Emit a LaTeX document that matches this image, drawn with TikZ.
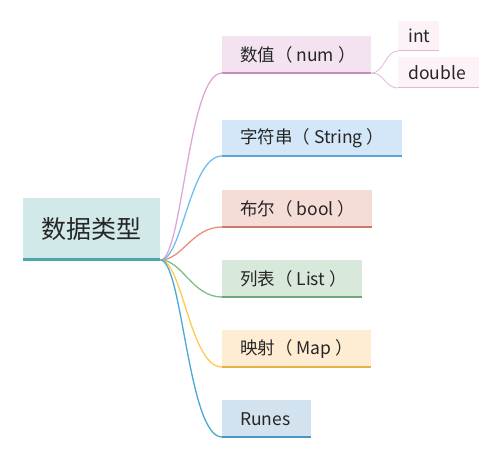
\documentclass[tikz,border=0pt]{standalone}
\usepackage{fontspec}
\setmainfont{Noto Sans CJK SC}
\usetikzlibrary{positioning}
\definecolor{typesfill}{HTML}{D2E9EA}
\definecolor{typesline}{HTML}{4BA7A9}
\definecolor{numfill}{HTML}{F3E2EF}
\definecolor{numline}{HTML}{C58DBA}
\definecolor{numcurve}{HTML}{DDA8D6}
\definecolor{leaffill}{HTML}{FCF2F8}
\definecolor{leafline}{HTML}{E2B8DA}
\definecolor{strfill}{HTML}{D4E7F8}
\definecolor{strline}{HTML}{5AA5D8}
\definecolor{strcurve}{HTML}{70BDF2}
\definecolor{boolfill}{HTML}{F6DCD6}
\definecolor{boolline}{HTML}{CC7A65}
\definecolor{boolcurve}{HTML}{E8907A}
\definecolor{listfill}{HTML}{D8E9DC}
\definecolor{listline}{HTML}{6CA97A}
\definecolor{listcurve}{HTML}{7DBF8A}
\definecolor{mapfill}{HTML}{FFEDD3}
\definecolor{mapline}{HTML}{E4B341}
\definecolor{mapcurve}{HTML}{FCCB50}
\definecolor{runesfill}{HTML}{D2E3EF}
\definecolor{runesline}{HTML}{4798C1}
\definecolor{runescurve}{HTML}{4AA8D6}
% left-aligned label of fixed width
\newcommand{\boxtext}[2]{\makebox[#1][l]{#2}}

\begin{document}
\begin{tikzpicture}[x=1pt, y=-1pt,
    topic/.style={rectangle, inner xsep=18pt, inner ysep=0pt, anchor=south west,
      minimum height=38pt, text=black!85,
      font=\fontsize{17.5}{21}\selectfont},
    leaf/.style={topic, inner xsep=10pt, minimum height=30pt},
    branch/.style={line width=1.3pt},
    twig/.style={line width=0.8pt, leafline}]
  \useasboundingbox (0,0) rectangle (500,460);

  % boxes
  \node[topic, fill=typesfill, inner xsep=0pt, minimum width=137pt,
        minimum height=63pt, font=\fontsize{25}{30}\selectfont] (types) at (23,261) {数据类型};
  \node[topic, fill=numfill] (num) at (222,74) {\boxtext{113pt}{数值（ num ）}};
  \node[leaf, fill=leaffill] (int) at (398,51) {\boxtext{21pt}{int}};
  \node[leaf, fill=leaffill, minimum height=31pt] (dbl) at (398,88) {\boxtext{61pt}{double}};
  \node[topic, fill=strfill, minimum height=37pt] (str) at (222,157) {\boxtext{144pt}{字符串（ String ）}};
  \node[topic, fill=boolfill] (bool) at (222,228) {\boxtext{114pt}{布尔（ bool ）}};
  \node[topic, fill=listfill] (list) at (222,298) {\boxtext{104pt}{列表（ List ）}};
  \node[topic, fill=mapfill] (map) at (222,368) {\boxtext{113pt}{映射（ Map ）}};
  \node[topic, fill=runesfill] (runes) at (222,438) {\boxtext{53pt}{Runes}};

  % branches
  \draw[branch, numcurve] ([yshift=1pt]types.south east) .. controls +(22,0) and +(-34,0) .. ([yshift=1pt]num.south west);
  \draw[branch, strcurve] ([yshift=1pt]types.south east) .. controls +(22,0) and +(-32,0) .. ([yshift=1pt]str.south west);
  \draw[branch, boolcurve] ([yshift=1pt]types.south east) .. controls +(22,0) and +(-30,0) .. ([yshift=1pt]bool.south west);
  \draw[branch, listcurve] ([yshift=1pt]types.south east) .. controls +(22,0) and +(-30,0) .. ([yshift=1pt]list.south west);
  \draw[branch, mapcurve] ([yshift=1pt]types.south east) .. controls +(22,0) and +(-32,0) .. ([yshift=1pt]map.south west);
  \draw[branch, runescurve] ([yshift=1pt]types.south east) .. controls +(22,0) and +(-34,0) .. ([yshift=1pt]runes.south west);
  \draw[twig] ([yshift=1pt]num.south east) .. controls +(13,0) and +(-13,0) .. (int.south west);
  \draw[twig] ([yshift=1pt]num.south east) .. controls +(13,0) and +(-13,0) .. (dbl.south west);

  % underlines
  \draw[line width=3pt, typesline] ([yshift=1.5pt]types.south west) -- ([yshift=1.5pt]types.south east);
  \draw[line width=2.5pt, numline] ([yshift=1.25pt]num.south west) -- ([yshift=1.25pt]num.south east);
  \draw[line width=2.5pt, strline] ([yshift=1.25pt]str.south west) -- ([yshift=1.25pt]str.south east);
  \draw[line width=2.5pt, boolline] ([yshift=1.25pt]bool.south west) -- ([yshift=1.25pt]bool.south east);
  \draw[line width=2.5pt, listline] ([yshift=1.25pt]list.south west) -- ([yshift=1.25pt]list.south east);
  \draw[line width=2.5pt, mapline] ([yshift=1.25pt]map.south west) -- ([yshift=1.25pt]map.south east);
  \draw[line width=2.5pt, runesline] ([yshift=1.25pt]runes.south west) -- ([yshift=1.25pt]runes.south east);
  \draw[twig] ([yshift=0.4pt]int.south west) -- ([yshift=0.4pt]int.south east);
  \draw[twig] ([yshift=0.4pt]dbl.south west) -- ([yshift=0.4pt]dbl.south east);
\end{tikzpicture}
\end{document}
